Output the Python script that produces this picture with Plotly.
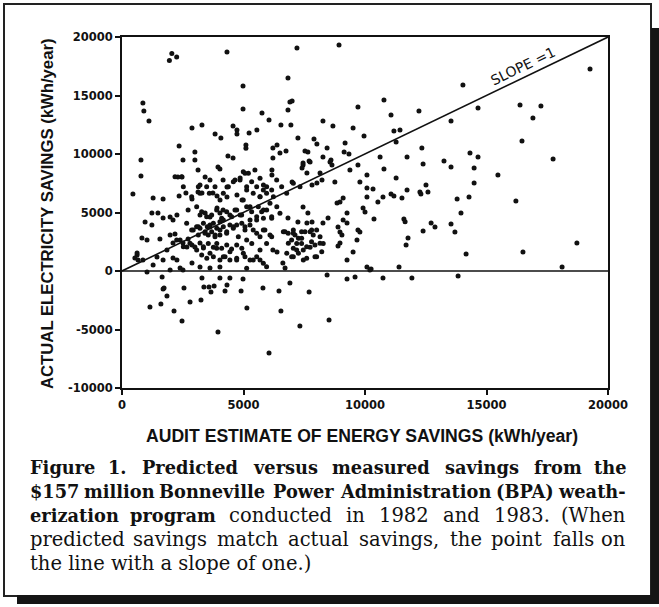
import plotly.graph_objects as go

# ---- data (kWh/year) ----
audit_estimate = [
    2050, 1950, 2250, 4320, 7200, 8930, 6830, 4980, 860, 900, 1110, 4980, 5760, 6830, 6910, 7000,
    6050, 6540, 6950, 8270, 8680, 9710, 9510, 9960, 2880, 3290, 4570, 4730, 4730, 5230, 5550, 3830,
    4070, 7240, 7900, 8020, 8440, 9180, 9140, 9340, 2350, 3000, 3000, 780, 2510, 5100, 5100, 6210,
    6380, 6500, 6750, 7530, 7650, 4360, 4570, 6210, 7450, 7700, 8270, 8600,
    19260, 14030, 10780, 11070, 12220, 14650, 13540, 16380, 17240, 16910, 11190, 11440, 11280,
    16460, 17740, 12340, 10620, 11730, 10780, 12390, 13250, 13540, 14320, 14650, 14490, 14490, 15470,
    11280, 10330, 10740, 10530, 11070, 11190, 11520, 11730, 12260, 12300, 12510, 12590, 13790, 14280,
    16210, 10370, 11600, 11650, 13950, 12720, 12880, 13540, 13700, 12390,
    11770, 11690, 14160, 16500, 18720, 18110, 11400, 10250, 10740, 11930, 13830,
    1690, 1730, 1850, 2550, 3370, 3790, 4320, 3660, 4240, 4900, 5800, 6460, 7700,
    1150, 1600, 2140, 2800, 3250, 2470, 5140, 6540, 3950, 7320, 8520, 6050,
    1650, 3290, 4030, 4440, 4980, 3580, 6910, 8440, 9260, 9590, 10080, 10200,
    780, 450, 2300, 2470, 3130, 3950, 4030, 3420, 3620, 3210, 4160, 4320, 4650, 4860,
    1280, 1690, 2350, 2630, 2880, 3130, 3290, 3740, 3910, 4320, 4730, 4940, 2720, 1230, 1480,
    950, 1230, 1690, 1980, 2100, 2260, 3210, 3420, 3620, 3910, 4030, 4160, 4440, 4650, 4860,
    3350, 3510, 3620, 3760, 3900, 3420, 3690, 4030, 3210, 3550, 3830, 4170, 4310, 4440, 4580,
    4720, 4930, 4030, 4170, 3070, 2930, 3140,
    820, 1030, 1560, 1980, 2180, 2390, 2510, 2670, 2720, 2880, 3000, 3210, 3350,
    3550, 3760, 3900, 4100, 4310, 4510, 4720, 4930,
    3280, 3490, 3760, 4030, 4240, 4440, 4720, 2100, 2260, 1280, 1690, 620, 530, 660,
    2880, 3210, 3620, 4030, 2390, 2510, 1980, 1030,
    7450, 7410, 7740, 8560, 8640, 6170, 6170, 7000, 7610, 8150, 7820, 8020, 8230, 8760,
    9380, 9710, 9790, 10080, 10080, 10080, 8850, 8970, 9100, 9920, 10000, 9260, 9100, 9260,
    8890, 8970, 9050, 8970, 8890, 9710, 9790, 9670, 9510, 9260, 8480, 8270,
    6640, 6840, 7050, 7120, 7260, 6980, 7190, 7390, 7530, 7740, 7870, 8010, 7800, 7940, 7740,
    7460, 7260, 7050, 6780, 7600, 8010, 8220, 8280, 7050, 7390, 8150,
    7240, 7610, 7820, 7450, 7650, 6830, 6210, 6380, 6620, 6710,
    4990, 5200, 5470, 5680, 5820, 5950, 5680, 5400, 5130, 4990, 5270, 5610, 5820, 6090, 6230,
    6370, 6500, 6160, 5820, 5540, 5270, 5060, 5400, 5680, 5880, 5950, 6160, 5680, 5340, 5130,
    5060, 5400, 5680, 5950, 5130,
    2181, 2455, 2524, 2867, 3141, 3210, 3484, 3594, 3827, 4033, 4170, 4376, 4582, 4856, 5061,
    5130, 5336, 5542, 5679, 5816, 5953, 6159, 6365, 6570, 6776, 7050, 7325,
    3073, 3278, 3484, 3690, 3896, 4101, 4307, 4513, 4719, 4924, 5130, 5336, 5542, 5747, 5953, 6159,
    2661, 2867, 3141, 3415, 3621, 3827, 4033, 4307, 4582, 4787, 5061, 5267, 5542, 5816, 6090,
    2250, 2524, 2798, 3073, 3347, 3621, 3896, 4170, 4444, 4719, 4993, 5267, 5542, 5816,
    6708, 6845, 7050, 7188, 7393, 7599, 7805, 7942, 8148, 6982, 7462,
    620, 860, 1440, 1850, 2100,
]
actual_savings = [
    18600, 18000, 18300, 18720, 19060, 19320, 16500, 15810, 14360, 13680, 12820, 13850, 13500, 13760, 14450, 14530,
    12900, 12480, 12480, 12820, 12390, 14020, 12220, 11540, 12220, 12480, 12390, 12050, 11710, 11800, 12050, 11710,
    11370, 11370, 11280, 10850, 10510, 10940, 10170, 10000, 10680, 10170, 9490, 9490, 9490, 10770, 10500, 10510,
    10770, 10090, 10260, 10260, 10170, 9830, 9660, 9660, 9230, 9400, 9740, 9490,
    17260, 15900, 14620, 13330, 13680, 13930, 12820, 14190, 14100, 13080, 11970, 12050, 11030,
    11110, 9570, 10510, 9740, 9740, 8720, 9150, 9400, 8890, 10090, 9740, 8800, 7520, 8210,
    7950, 7010, 6320, 5900, 6580, 6410, 6240, 6920, 6750, 6580, 7350, 6750, 6150, 6320,
    5980, 4440, 4440, 4200, 4960, 4100, 3760, 4020, 3330, 3420,
    2820, 2220, 1450, 1620, 2390, 340, 340, 170, -600, -600, -430,
    -1540, -1450, -2140, -1450, -1370, -1280, -1200, -1790, -1710, -1710, -1450, -1710, -1790,
    -3080, -2820, -3420, -2650, -2480, -4270, -3160, -3420, -5210, -4700, -4190, -7010,
    -510, -600, -600, -600, -680, -1370, -1030, -340, -680, -510, 340, 90,
    8120, 6580, 8030, 8030, 8630, 8890, 8720, 8030, 7780, 7350, 7780, 7180, 7780, 7950,
    6240, 6150, 6410, 6670, 6150, 6750, 6670, 6670, 6410, 6320, 6500, 6070, 5210, 4960, 4960,
    4190, 3930, 4530, 4620, 4360, 4790, 4790, 4960, 4620, 5380, 4960, 5210, 4790, 5210, 4790,
    4080, 3790, 3930, 4080, 3650, 3360, 3360, 3080, 3650, 3080, 3080, 3790, 3360, 3930, 3650,
    3930, 4080, 4220, 4360, 3790, 3500, 3080,
    2820, 2650, 2740, 3080, 3160, 2650, 2390, 2050, 2740, 2220, 2050, 2390, 1970,
    2360, 2020, 2360, 1940, 2220, 1880, 2220, 1940,
    1370, 1090, 1220, 940, 1220, 940, 1090, 1110, 940, 510, 940, 1370, 1110, 940,
    680, 340, 260, 340, 260, 90, 90, -90,
    9060, 8800, 9320, 9320, 9060, 8630, 8210, 7610, 8380, 8380, 7350, 7520, 7780, 7610,
    8630, 9060, 7610, 8210, 7090, 6320, 5810, 5900, 6240, 5380, 5040, 4960, 4360, 4100,
    3760, 3330, 3080, 2390, 2140, 3500, 3330, 2650, 1620, 940, 4530, 4100,
    3360, 3220, 3500, 3080, 2790, 2650, 2360, 3360, 3360, 3360, 3080, 3500, 2510, 2220, 2020,
    1800, 1510, 1220, 1510, 1090, 1220, 1650, 2360, 1940, 2360, 2930,
    4190, 4100, 4190, 5470, 4960, 4530, 1800, 1620, 680, 260,
    8490, 8350, 8630, 7920, 7350, 6640, 6350, 6640, 6920, 6070, 5500, 5500, 5210, 5790, 6350,
    5500, 4930, 4500, 4500, 4360, 4360, 3790, 3500, 2930, 3500, 2360, 2930, 1800, 2360, 2650,
    1220, 940, 940, 370, 230,
    8062, 8062, 7208, 6353, 7208, 6638, 7208, 6638, 7208, 6068, 6638, 7208, 7635, 7777, 8347,
    7208, 7635, 7208, 6353, 6923, 7208, 6923, 7777, 7208, 6638, 7493, 7208,
    5498, 5071, 4644, 4786, 5213, 4501, 5071, 4644, 5213, 4786, 5498, 5071, 4644, 5071, 5213, 4644,
    4074, 3504, 3789, 3219, 3789, 2934, 3504, 3219, 3789, 2934, 3504, 3931, 3219, 3504, 3076,
    2649, 2080, 2364, 1795, 2080, 1510, 1937, 1225, 1652, 940, 1510, 940, 1225, 655,
    3362, 2364, 3219, 1795, 2792, 2080, 3504, 1225, 2364, 1225, 940,
    1540, 940, 1200, 1800, 2390,
]
x_ticks = [0, 5000, 10000, 15000, 20000]
y_ticks = [-10000, -5000, 0, 5000, 10000, 15000, 20000]
slope_line_x = [0, 20000]
slope_line_y = [0, 20000]

caption_lines = [
    [("Figure", 1), ("1.", 1), ("Predicted", 1), ("versus", 1), ("measured", 1), ("savings", 1),
     ("from", 1), ("the", 1)],
    [("$157", 1), ("million", 1), ("Bonneville", 1), ("Power", 1), ("Administration", 1),
     ("(BPA)", 1), ("weath-", 1)],
    [("erization", 1), ("program", 1), ("conducted", 0), ("in", 0), ("1982", 0), ("and", 0),
     ("1983.", 0), ("(When", 0)],
    [("predicted", 0), ("savings", 0), ("match", 0), ("actual", 0), ("savings,", 0), ("the", 0),
     ("point", 0), ("falls", 0), ("on", 0)],
]
caption_last = "the line with a slope of one.)"

# ---- layout geometry (pixels of the 659x607 page) ----
W, H = 659, 607
L, R, T, B = 122, 608, 37, 388


def px(x):
    return (x - L) / (R - L)


def py(y):
    return (B - y) / (B - T)


fig = go.Figure()
fig.add_trace(go.Scatter(
    x=audit_estimate, y=actual_savings, mode="markers",
    marker=dict(size=5, color="#111111", line=dict(width=0)),
    hoverinfo="x+y", showlegend=False,
))

axis_font = dict(family="DejaVu Sans", size=11.5, color="#111111", weight="bold")
common = dict(showgrid=False, zeroline=False, showline=True, linewidth=2, linecolor="#111",
              mirror=True, ticks="outside", ticklen=5, tickwidth=1.5, tickcolor="#111",
              tickfont=axis_font)
fig.update_xaxes(range=[0, 20000], tickvals=x_ticks, ticktext=[str(v) for v in x_ticks], **common)
fig.update_yaxes(range=[-10000, 20000], tickvals=y_ticks, ticktext=[str(v) for v in y_ticks], **common)

shapes = [
    dict(type="line", xref="x", yref="y", x0=0, x1=20000, y0=0, y1=0,
         line=dict(color="#111", width=1.6)),
    dict(type="line", xref="x", yref="y", x0=slope_line_x[0], x1=slope_line_x[1],
         y0=slope_line_y[0], y1=slope_line_y[1], line=dict(color="#111", width=1.6)),
    dict(type="rect", xref="paper", yref="paper", x0=px(4), x1=px(651), y0=py(596), y1=py(4),
         line=dict(color="#222", width=2)),
    dict(type="rect", xref="paper", yref="paper", x0=px(651), x1=px(660), y0=py(604), y1=py(28),
         line=dict(width=0), fillcolor="#151515"),
    dict(type="rect", xref="paper", yref="paper", x0=px(17), x1=px(660), y0=py(604), y1=py(595),
         line=dict(width=0), fillcolor="#151515"),
]

title_font = dict(family="Liberation Sans", size=17.6, color="#111", weight="bold")
BOLD_SIZE, REG_SIZE = 17.8, 19.5
bold_font = dict(family="DejaVu Serif", size=BOLD_SIZE, color="#111", weight="bold")
reg_font = dict(family="DejaVu Serif", size=REG_SIZE, color="#111")

annotations = [
    dict(text="AUDIT ESTIMATE OF ENERGY SAVINGS (kWh/year)", xref="paper", yref="paper",
         x=px(362), y=py(436), showarrow=False, font=title_font, xanchor="center", yanchor="middle"),
    dict(text="ACTUAL ELECTRICITY SAVINGS (kWh/year)", xref="paper", yref="paper",
         x=px(47), y=py(214), showarrow=False, font=dict(title_font, size=16.7), textangle=-90,
         xanchor="center", yanchor="middle"),
    dict(text="SLOPE =1", xref="x", yref="y", x=16500, y=17550, showarrow=False,
         font=dict(family="DejaVu Sans", size=14, color="#111"), textangle=-25.7,
         xanchor="center", yanchor="middle"),
]

# approximate glyph advance widths (em) for a DejaVu-like serif, used to justify the caption
GLYPH = dict(a=.60, b=.64, c=.56, d=.64, e=.59, f=.37, g=.64, h=.64, i=.32, j=.31, k=.60, l=.32,
             m=.95, n=.64, o=.60, p=.64, q=.64, r=.48, s=.51, t=.40, u=.64, v=.57, w=.86, x=.56,
             y=.57, z=.52)
GLYPH.update({".": .32, ",": .32, "(": .39, ")": .39, "-": .34, "$": .64,
              "A": .72, "B": .74, "P": .68, "F": .68, "W": 1.03})


def est_width(word, bold):
    em = 0.0
    for ch in word:
        if ch.isdigit():
            em += .64
        else:
            em += GLYPH.get(ch, .70)
    return em * (1.10 * BOLD_SIZE if bold else REG_SIZE)


cap_left, cap_right = 28, 628
caption_y = [467, 491, 515, 539, 563]
for words, yy in zip(caption_lines, caption_y):
    widths = [est_width(w, b) for w, b in words]
    gap = (cap_right - cap_left - sum(widths)) / (len(words) - 1)
    pos = cap_left
    for i, ((w, b), ww) in enumerate(zip(words, widths)):
        if i == 0:
            xa, xp = "left", cap_left
        elif i == len(words) - 1:
            xa, xp = "right", cap_right
        else:
            xa, xp = "center", pos + ww / 2
        annotations.append(dict(text=w, xref="paper", yref="paper", x=px(xp), y=py(yy),
                                showarrow=False, font=bold_font if b else reg_font,
                                xanchor=xa, yanchor="middle"))
        pos += ww + gap
annotations.append(dict(text=caption_last, xref="paper", yref="paper", x=px(cap_left),
                        y=py(caption_y[-1]), showarrow=False, font=reg_font,
                        xanchor="left", yanchor="middle"))

fig.update_layout(
    width=W, height=H, margin=dict(l=L, r=W - R, t=T, b=H - B),
    paper_bgcolor="white", plot_bgcolor="white",
    shapes=shapes, annotations=annotations,
)
fig.write_html("out.html", config={"displayModeBar": False},
               post_script="document.body.style.margin='0px';")
